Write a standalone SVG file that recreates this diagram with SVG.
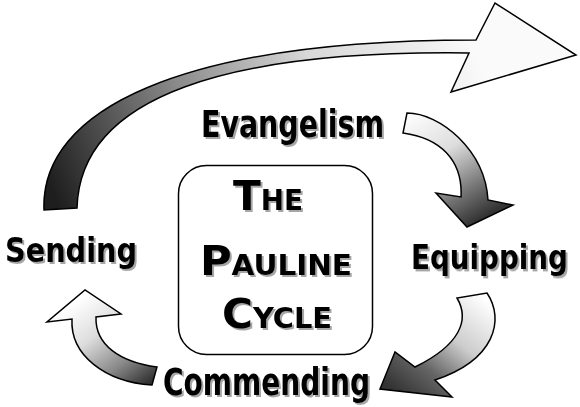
<svg xmlns="http://www.w3.org/2000/svg" width="580" height="407" viewBox="0 0 580 407">
  <defs>
    <linearGradient id="gBig" gradientUnits="userSpaceOnUse" x1="60" y1="210" x2="470" y2="40">
      <stop offset="0" stop-color="#1e1e1e"/>
      <stop offset="0.35" stop-color="#8a8a8a"/>
      <stop offset="0.65" stop-color="#d8d8d8"/>
      <stop offset="0.9" stop-color="#eeeeee"/>
      <stop offset="1" stop-color="#fafafa"/>
    </linearGradient>
    <linearGradient id="gEva" gradientUnits="userSpaceOnUse" x1="405" y1="115" x2="470" y2="225">
      <stop offset="0" stop-color="#ffffff"/>
      <stop offset="0.4" stop-color="#dddddd"/>
      <stop offset="0.75" stop-color="#777777"/>
      <stop offset="1" stop-color="#333333"/>
    </linearGradient>
    <linearGradient id="gEqu" gradientUnits="userSpaceOnUse" x1="480" y1="295" x2="400" y2="395">
      <stop offset="0" stop-color="#ffffff"/>
      <stop offset="0.4" stop-color="#cccccc"/>
      <stop offset="0.7" stop-color="#666666"/>
      <stop offset="1" stop-color="#333333"/>
    </linearGradient>
    <linearGradient id="gCom" gradientUnits="userSpaceOnUse" x1="85" y1="295" x2="150" y2="385">
      <stop offset="0" stop-color="#ffffff"/>
      <stop offset="0.35" stop-color="#dddddd"/>
      <stop offset="0.7" stop-color="#888888"/>
      <stop offset="1" stop-color="#2a2a2a"/>
    </linearGradient>
    <filter id="shadow" x="-2%" y="-10%" width="104%" height="125%">
      <feDropShadow dx="2" dy="2" stdDeviation="0.6" flood-color="#000" flood-opacity="0.35"/>
    </filter>
  </defs>
  <style>
    .arrow { stroke: #000; stroke-width: 1.5; stroke-linejoin: miter; }
    .label { font-family: "Comic Sans MS", "DejaVu Sans", sans-serif; font-weight: bold; fill: #000; filter: url(#shadow); }
    .box { fill: #fff; stroke: #000; stroke-width: 1.5; }
  </style>
  <rect width="580" height="407" fill="#fff"/>

  <g id="connectors">
    <path class="arrow" fill="url(#gBig)" d="M 44,210 C 40,110 180,40 476,40 L 495,3 L 576,55 L 451,92 L 469,53 C 230,50 80,95 77,208 Z"/>
    <path class="arrow" fill="url(#gEva)" d="M 407,113 C 440,113 485,150 488,200 L 513,205 L 467,227 L 436,193 L 461,197 C 463,160 440,138 403,133 Z"/>
    <path class="arrow" fill="url(#gEqu)" d="M 487,293 C 505,320 495,360 435,380 L 452,397 L 380,389 L 395,352 L 415,367 C 460,345 470,320 457,298 Z"/>
    <path class="arrow" fill="url(#gCom)" d="M 157,367 C 120,362 95,345 96,317 L 121,314 L 85,290 L 47,322 L 72,319 C 70,355 105,382 152,385 Z"/>
  </g>

  <g id="node-center">
    <rect class="box" x="178.5" y="165.5" width="194" height="189" rx="28" ry="28"/>
    <text class="label" x="233" y="210" textLength="70" lengthAdjust="spacingAndGlyphs"><tspan font-size="41">T</tspan><tspan font-size="28">HE</tspan></text>
    <text class="label" x="200" y="275" textLength="152" lengthAdjust="spacingAndGlyphs"><tspan font-size="41">P</tspan><tspan font-size="28">AULINE</tspan></text>
    <text class="label" x="222" y="328" textLength="110" lengthAdjust="spacingAndGlyphs"><tspan font-size="41">C</tspan><tspan font-size="28">YCLE</tspan></text>
  </g>

  <g id="node-evangelism">
    <text class="label" x="201" y="137" font-size="37" textLength="183" lengthAdjust="spacingAndGlyphs">Evangelism</text>
  </g>
  <g id="node-equipping">
    <text class="label" transform="translate(411,269) scale(1,1.2)" x="0" y="0" font-size="28" textLength="157" lengthAdjust="spacingAndGlyphs">Equipping</text>
  </g>
  <g id="node-commending">
    <text class="label" x="163" y="395" font-size="37" textLength="207" lengthAdjust="spacingAndGlyphs">Commending</text>
  </g>
  <g id="node-sending">
    <text class="label" x="5" y="262" font-size="33" textLength="132" lengthAdjust="spacingAndGlyphs">Sending</text>
  </g>
</svg>
